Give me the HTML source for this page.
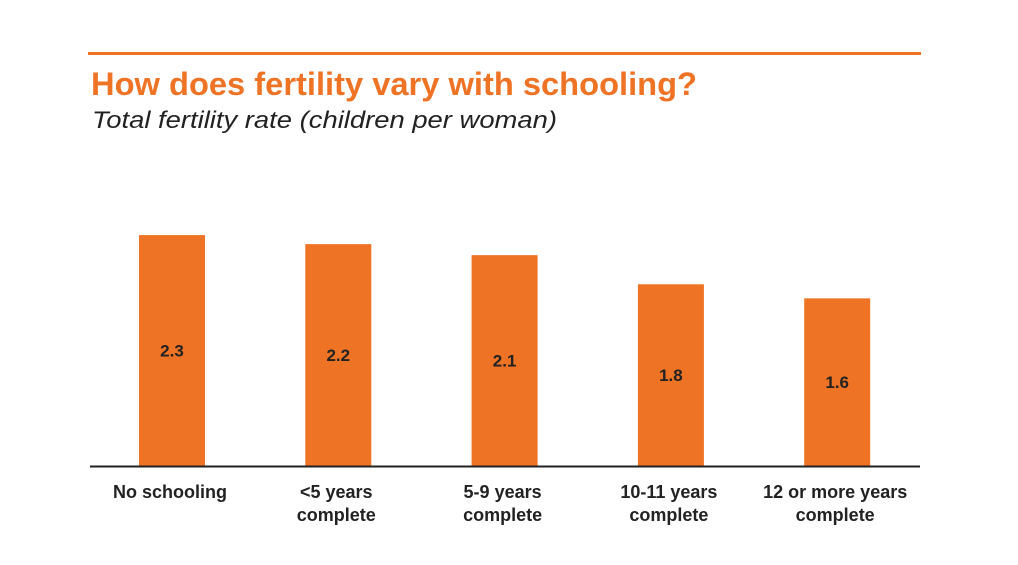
<!DOCTYPE html>
<html><head><meta charset="utf-8"><style>
body{margin:0;width:1018px;height:565px;background:#fff;font-family:"Liberation Sans",sans-serif;overflow:hidden;position:relative}
.rule{position:absolute;left:88px;top:52px;width:833px;height:3px;background:#ee7325}
</style></head><body>
<div class="rule"></div>
<svg width="1018" height="140" style="position:absolute;left:0;top:0">
<text x="91" y="95" font-size="32" font-weight="bold" fill="#ee7325" textLength="606" lengthAdjust="spacingAndGlyphs">How does fertility vary with schooling?</text>
<text x="92" y="128" font-size="24" font-style="italic" fill="#222" textLength="465" lengthAdjust="spacingAndGlyphs">Total fertility rate (children per woman)</text>
</svg>
<svg id="c" width="1018" height="565" style="position:absolute;left:0;top:0"></svg>
<script>
const categories=[["No schooling"],["<5 years","complete"],["5-9 years","complete"],["10-11 years","complete"],["12 or more years","complete"]];
const values=[2.30,2.21,2.10,1.81,1.67];
const valueLabels=["2.3","2.2","2.1","1.8","1.6"];
const svg=document.getElementById('c');
const NS='http://www.w3.org/2000/svg';
const base=466, scale=100.4;
const y=v=>base-v*scale;
const xc=i=>172+i*166.3;
const bw=66;
function mk(t,a){const e=document.createElementNS(NS,t);for(const k in a)e.setAttribute(k,a[k]);svg.appendChild(e);return e;}
values.forEach((v,i)=>{
  const r=mk('rect',{x:xc(i)-bw/2,y:y(v),width:bw,height:base-y(v),fill:'#ee7325'});
  
  
  const t=mk('text',{x:xc(i),y:(y(v)+base)/2+6,'text-anchor':'middle','font-size':'17','font-weight':'bold',fill:'#222'});
  t.textContent=valueLabels[i];
  
  
  categories[i].forEach((s,j)=>{
    const c=mk('text',{x:xc(i)-2,y:498+j*23,'text-anchor':'middle','font-size':'18','font-weight':'bold',fill:'#222'});
    c.textContent=s;
    
    
  });
});
const ax=mk('line',{x1:90,x2:920,y1:base+0.5,y2:base+0.5,stroke:'#222','stroke-width':2});


</script>
</body></html>
